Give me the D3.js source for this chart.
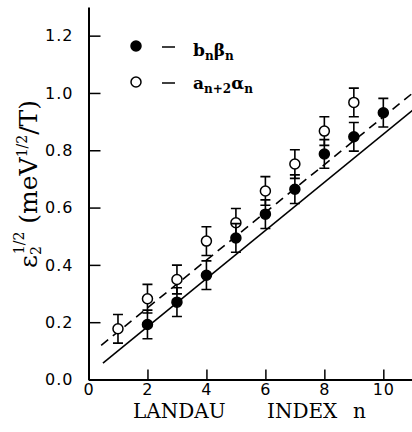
<!DOCTYPE html>
<html>
<head>
<meta charset="utf-8">
<script src="https://cdn.jsdelivr.net/npm/d3@7"></script>
<style>
  body { margin: 0; background: #fff; }
  text { fill: #000; }
</style>
</head>
<body>
<div id="chart"></div>
<script>
// values
var nFilled = [2, 3, 4, 5, 6, 7, 8, 9, 10];
var vFilled = [0.192, 0.270, 0.364, 0.494, 0.577, 0.664, 0.787, 0.847, 0.931];
var nOpen = [1, 2, 3, 4, 5, 6, 7, 8, 9];
var vOpen = [0.177, 0.282, 0.349, 0.483, 0.547, 0.658, 0.752, 0.867, 0.967];
var errBar = 0.05;
var solidFit = [[0.49, 0.057], [11, 0.94]];
var dashFit = [[0.43, 0.119], [11, 1.0]];
var xTicks = [0, 2, 4, 6, 8, 10];
var yTicks = [0, 0.2, 0.4, 0.6, 0.8, 1.0, 1.2];

var width = 412,
    height = 432;

var svg = d3.select("#chart")
    .append("svg")
    .attr("width", width)
    .attr("height", height);

var x = d3.scaleLinear().domain([0, 11]).range([88.5, 412.8]);
var y = d3.scaleLinear().domain([0, 1.3]).range([379.5, 7]);

// axes, ticks inward
var xAxis = d3.axisBottom(x)
    .tickValues(xTicks)
    .tickSizeInner(-10)
    .tickSizeOuter(0)
    .tickPadding(8)
    .tickFormat(d3.format("d"));

var yAxis = d3.axisLeft(y)
    .tickValues(yTicks)
    .tickSizeInner(-12)
    .tickSizeOuter(0)
    .tickPadding(15)
    .tickFormat(d3.format(".1f"));

var gx = svg.append("g")
    .attr("transform", "translate(0," + y(0) + ")")
    .call(xAxis);
var gy = svg.append("g")
    .attr("transform", "translate(" + x(0) + ",0)")
    .call(yAxis);

gx.select(".domain").attr("stroke-width", 2);
gy.select(".domain").attr("stroke-width", 2);
svg.selectAll(".tick line").attr("stroke-width", 1.5);
svg.selectAll(".tick text")
    .style("font-family", "DejaVu Sans")
    .style("font-size", "16px")
    .style("letter-spacing", "1px");
gx.selectAll(".tick text").attr("y", 4).attr("dy", "0.71em");

// fit lines
var line = d3.line()
    .x(function(d) { return x(d[0]); })
    .y(function(d) { return y(d[1]); });

svg.append("path")
    .datum(solidFit)
    .attr("fill", "none")
    .attr("stroke", "#000")
    .attr("stroke-width", 1.6)
    .attr("d", line);

svg.append("path")
    .datum(dashFit)
    .attr("fill", "none")
    .attr("stroke", "#000")
    .attr("stroke-width", 1.6)
    .attr("stroke-dasharray", "9,6")
    .attr("d", line);

function drawSeries(ns, vs, filled) {
  var pts = ns.map(function(n, i) { return { n: n, v: vs[i] }; });
  var g = svg.append("g");

  g.selectAll(".err")
    .data(pts)
    .enter()
    .append("path")
    .attr("fill", "none")
    .attr("stroke", "#000")
    .attr("stroke-width", 1.6)
    .attr("d", function(d) {
      var cx = x(d.n), lo = y(d.v - errBar), hi = y(d.v + errBar);
      return "M" + (cx - 5) + "," + hi + "H" + (cx + 5) +
             "M" + cx + "," + hi + "V" + lo +
             "M" + (cx - 5) + "," + lo + "H" + (cx + 5);
    });

  g.selectAll("circle")
    .data(pts)
    .enter()
    .append("circle")
    .attr("cx", function(d) { return x(d.n); })
    .attr("cy", function(d) { return y(d.v); })
    .attr("r", 5)
    .attr("fill", filled ? "#000" : "#fff")
    .attr("stroke", "#000")
    .attr("stroke-width", 1.5);
}

drawSeries(nOpen, vOpen, false);
drawSeries(nFilled, vFilled, true);

// legend
var leg = svg.append("g")
    .style("font-family", "DejaVu Serif")
    .style("font-weight", "bold");

leg.append("circle").attr("cx", 136).attr("cy", 46).attr("r", 5)
    .attr("fill", "#000").attr("stroke", "#000").attr("stroke-width", 1.5);
leg.append("line").attr("x1", 162).attr("x2", 175).attr("y1", 47).attr("y2", 47)
    .attr("stroke", "#000").attr("stroke-width", 1.5);
leg.append("circle").attr("cx", 136).attr("cy", 82).attr("r", 5)
    .attr("fill", "#fff").attr("stroke", "#000").attr("stroke-width", 1.5);
leg.append("line").attr("x1", 162).attr("x2", 175).attr("y1", 83).attr("y2", 83)
    .attr("stroke", "#000").attr("stroke-width", 1.5);

var t1 = leg.append("text").attr("x", 193).attr("y", 56).style("font-size", "17px");
t1.append("tspan").text("b");
t1.append("tspan").attr("dy", 4).style("font-size", "12px").text("n");
t1.append("tspan").attr("dy", -4).text("β");
t1.append("tspan").attr("dy", 4).style("font-size", "12px").text("n");

var t2 = leg.append("text").attr("x", 193).attr("y", 89).style("font-size", "17px");
t2.append("tspan").text("a");
t2.append("tspan").attr("dy", 4).style("font-size", "12px").text("n+2");
t2.append("tspan").attr("dy", -4).text("α");
t2.append("tspan").attr("dy", 4).style("font-size", "12px").text("n");

// x title
var xt = svg.append("text")
    .attr("y", 418)
    .style("font-family", "DejaVu Serif")
    .style("font-size", "20px");
xt.append("tspan").attr("x", 133).text("LANDAU");
xt.append("tspan").attr("x", 267).text("INDEX");
xt.append("tspan").attr("x", 353).text("n");

// y title
var yt = svg.append("text")
    .attr("transform", "translate(37,184) rotate(-90)")
    .attr("text-anchor", "middle")
    .style("font-family", "DejaVu Serif")
    .style("font-size", "25px");
yt.append("tspan").text("ε");
yt.append("tspan").attr("dy", 4).style("font-size", "14px").text("2");
yt.append("tspan").attr("dx", -8).attr("dy", -17).style("font-size", "14px").text("1/2");
yt.append("tspan").attr("dy", 13).text(" (meV");
yt.append("tspan").attr("dy", -10).style("font-size", "14px").text("1/2");
yt.append("tspan").attr("dy", 10).text("/T)");
</script>
</body>
</html>
